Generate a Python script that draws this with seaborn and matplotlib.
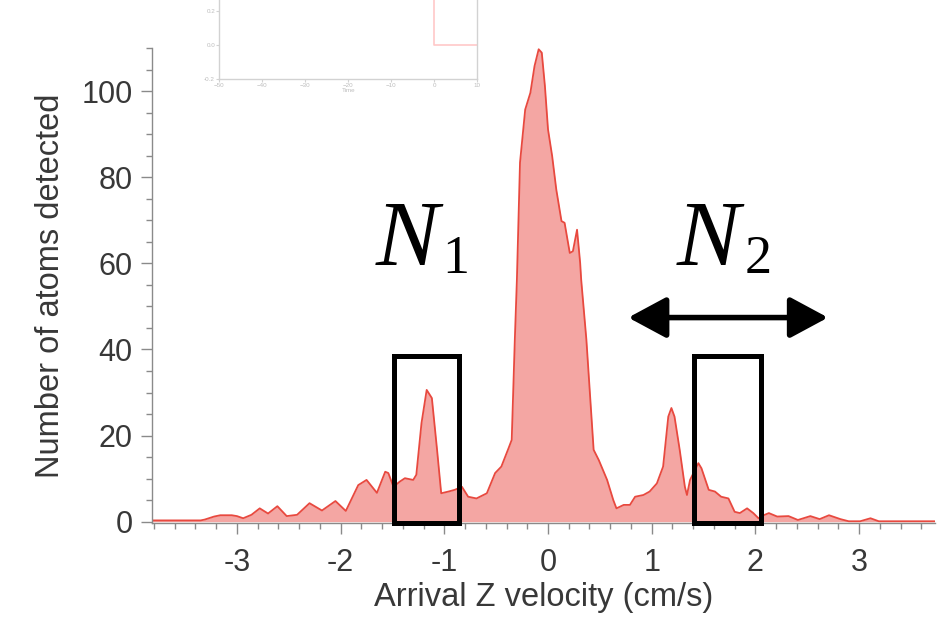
import matplotlib
matplotlib.use("Agg")
import matplotlib.pyplot as plt
import seaborn as sns
from matplotlib.patches import Rectangle, FancyArrowPatch
from matplotlib.ticker import MultipleLocator

# --- data ---
vel = [-3.82, -3.35, -3.31, -3.22, -3.16, -3.05, -3.00, -2.94, -2.86, -2.78,
       -2.70, -2.61, -2.52, -2.42, -2.30, -2.18, -2.05, -1.95, -1.83, -1.75,
       -1.65, -1.57, -1.54, -1.49, -1.43, -1.38, -1.30, -1.27, -1.22, -1.17,
       -1.12, -1.07, -1.03, -0.96, -0.90, -0.83, -0.77, -0.69, -0.59, -0.51,
       -0.45, -0.38, -0.35, -0.32, -0.30, -0.27, -0.22, -0.17, -0.13, -0.09,
       -0.06, -0.03, 0.00, 0.04, 0.08, 0.13, 0.16, 0.21, 0.24, 0.28,
       0.31, 0.32, 0.37, 0.44, 0.49, 0.57, 0.63, 0.66, 0.73, 0.79,
       0.84, 0.92, 0.98, 1.05, 1.11, 1.16, 1.19, 1.22, 1.27, 1.32,
       1.34, 1.37, 1.45, 1.48, 1.55, 1.61, 1.67, 1.74, 1.80, 1.85,
       1.92, 1.98, 2.03, 2.08, 2.13, 2.21, 2.32, 2.41, 2.53, 2.62,
       2.71, 2.82, 2.90, 3.01, 3.11, 3.19, 3.73]
counts = [0.3, 0.3, 0.5, 1.2, 1.5, 1.5, 1.3, 0.8, 1.6, 3.1,
          1.9, 3.6, 1.3, 1.6, 4.3, 2.6, 4.8, 2.5, 8.5, 9.7,
          6.7, 11.6, 11.3, 8.1, 9.3, 10.1, 9.7, 10.9, 22.9, 30.6,
          28.7, 16.7, 6.6, 7.0, 7.4, 8.1, 5.8, 5.4, 6.6, 11.3,
          12.8, 17.1, 19.0, 42.3, 56.2, 83.4, 95.7, 99.6, 105.8, 109.7,
          108.9, 101.2, 91.1, 84.9, 77.1, 69.8, 69.4, 62.4, 62.8, 67.8,
          60.1, 56.2, 42.3, 16.7, 14.3, 9.7, 5.0, 3.1, 3.9, 3.9,
          5.8, 6.2, 7.0, 8.9, 12.8, 24.4, 26.4, 24.4, 16.7, 8.1,
          6.2, 9.7, 13.6, 12.4, 7.4, 7.0, 5.8, 5.4, 2.3, 2.0,
          3.1, 2.0, 0.8, 1.5, 2.0, 1.2, 1.3, 0.4, 1.3, 0.6,
          1.5, 0.6, 0.1, 0.1, 0.8, 0.1, 0.1]

# inset (time trace, mostly cut off at the top)
inset_t = [0, 0, 10]
inset_v = [0.5, 0.0, 0.0]

# velocity windows and labels
windows = [(-1.49, -0.86), (1.41, 2.05)]
box_top = 38.5
arrow_span = (0.774, 2.70)
arrow_y = 47.4

sns.set_theme(style="ticks")
plt.rcParams["font.family"] = ["Liberation Sans", "DejaVu Sans"]

fig = plt.figure(figsize=(9.43, 6.19), dpi=100)
ax = fig.add_axes([0.1612, 0.1551, 0.8303, 0.7674])

fill_c = "#f4a6a3"
line_c = "#e8493f"
ax.fill_between(vel, counts, 0, color=fill_c, lw=0)
sns.lineplot(x=vel, y=counts, color=line_c, lw=1.3, estimator=None, sort=False, ax=ax)

ax.set_xlim(-3.819, 3.732)
ax.set_ylim(-0.3, 110)
ax.xaxis.set_major_locator(MultipleLocator(1))
ax.xaxis.set_minor_locator(MultipleLocator(0.2))
ax.yaxis.set_major_locator(MultipleLocator(20))
ax.yaxis.set_minor_locator(MultipleLocator(5))
ax.xaxis.set_major_formatter(plt.FuncFormatter(lambda v, p: f"{v:.0f}"))

for s in ["top", "right"]:
    ax.spines[s].set_visible(False)
for s in ["left", "bottom"]:
    ax.spines[s].set_color("#8a8a8a")
    ax.spines[s].set_linewidth(1.0)
ax.tick_params(which="major", length=8, width=1, color="#8a8a8a",
               labelsize=22, labelcolor="#383838", pad=6)
ax.tick_params(which="minor", length=4, width=1, color="#8a8a8a")
ax.tick_params(axis="x", which="major", pad=10)

ax.set_xlabel("Arrival Z velocity (cm/s)", fontsize=23.5, color="#383838", labelpad=3)
ax.set_ylabel("Number of atoms detected", fontsize=23.5, color="#383838", labelpad=11)

# boxes marking the windows
for lo, hi in windows:
    ax.add_patch(Rectangle((lo, -0.3), hi - lo, box_top + 0.3, fill=False,
                           ec="black", lw=3.6, clip_on=False, zorder=5))

# double arrow
ax.add_patch(FancyArrowPatch((arrow_span[0], arrow_y), (arrow_span[1], arrow_y),
                             arrowstyle="<|-|>,head_length=1.3,head_width=0.7",
                             mutation_scale=18, lw=4, color="black",
                             shrinkA=0, shrinkB=0, zorder=6))

# N_1 / N_2 labels
serif = ["Liberation Serif", "DejaVu Serif"]
ax.text(-1.66, 59.7, "N", fontsize=68, style="italic", family=serif,
        ha="left", va="baseline", color="black")
ax.text(-1.02, 57.8, "1", fontsize=39, family=serif, ha="left", va="baseline",
        color="black")
ax.text(1.245, 59.7, "N", fontsize=68, style="italic", family=serif,
        ha="left", va="baseline", color="black")
ax.text(1.90, 57.8, "2", fontsize=39, family=serif, ha="left", va="baseline",
        color="black")

# faded inset at the top
faint = "#d2d2d2"
iax = fig.add_axes([0.2325, 0.872, 0.2736, 0.138])
sns.lineplot(x=inset_t, y=inset_v, color="#ffc8c8", lw=1.2, estimator=None,
             sort=False, ax=iax)
iax.set_xlim(-50, 10)
iax.set_ylim(-0.2, 0.3)
iax.set_xticks([-50, -40, -30, -20, -10, 0, 10])
iax.set_yticks([-0.2, 0.0, 0.2])
iax.yaxis.set_major_formatter(plt.FuncFormatter(lambda v, p: f"{v:.1f}"))
iax.spines["top"].set_visible(False)
for s in ["left", "right", "bottom"]:
    iax.spines[s].set_color(faint)
    iax.spines[s].set_linewidth(1.0)
iax.tick_params(length=2, width=0.8, color=faint, labelsize=4.5, labelcolor="#bdbdbd", pad=1)
iax.set_xlabel("Time", fontsize=4.5, color="#bdbdbd", labelpad=0)
iax.patch.set_alpha(0)

fig.savefig("out.png", dpi=100)
